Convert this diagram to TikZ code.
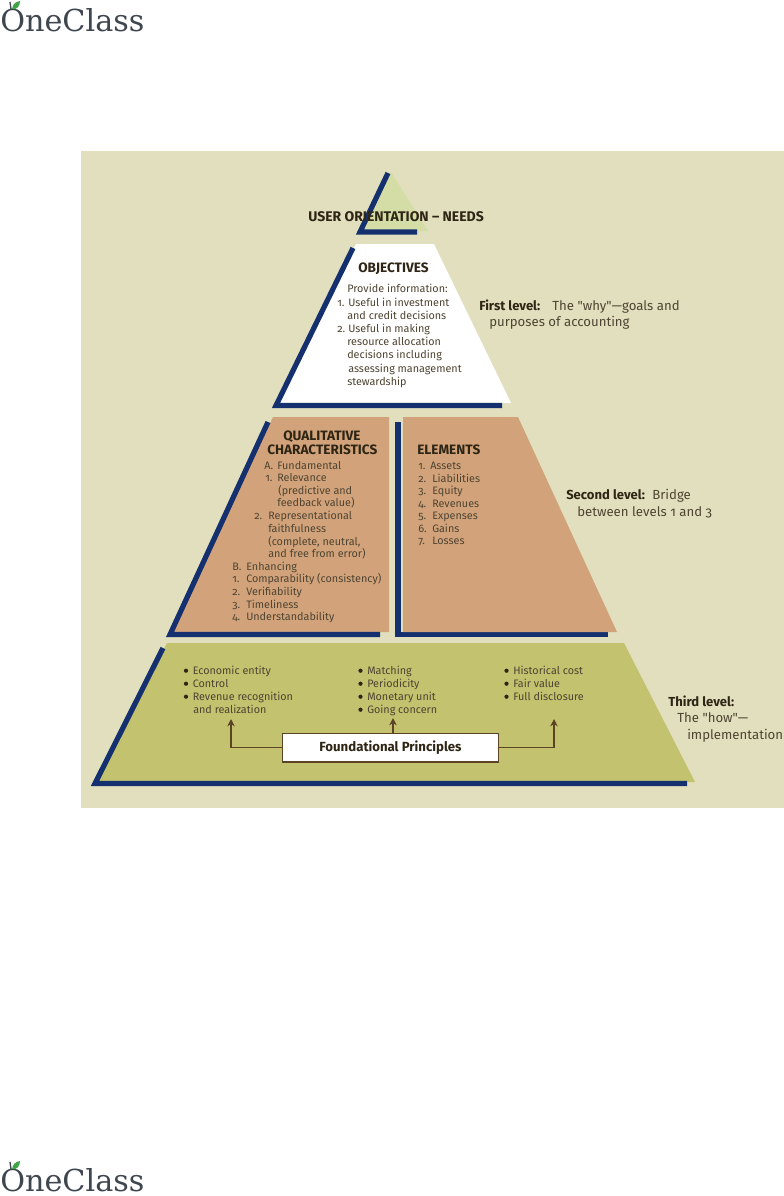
\documentclass[tikz,border=0pt]{standalone}
\usepackage{fontspec}
\setmainfont[Numbers=OldStyle,Ligatures=TeXOff]{Fira Sans}
\newfontfamily\logofont{DejaVu Serif}
\definecolor{bgc}{HTML}{E2DFBE}
\definecolor{navy}{HTML}{14306E}
\definecolor{tanc}{HTML}{D2A37A}
\definecolor{olive}{HTML}{C2C26F}
\definecolor{pale}{HTML}{D5DDA6}
\definecolor{ink}{HTML}{4E4432}
\definecolor{dark}{HTML}{2E2515}
\definecolor{brownc}{HTML}{5B4425}
\definecolor{logoc}{HTML}{3F4650}
\definecolor{leaf}{HTML}{3DA547}
\newcommand{\tl}[5][body]{\node[txt,#1] (#2) at (#3,#4+4.2) {#5};}
\newcommand{\bl}[4]{\fill[dark] (#1,#2+0.7) circle (2.1);\node[txt,body] (#3) at (#1+6.5,#2+4.2) {#4};}
\newcommand{\logo}[2]{%
  \begin{scope}[shift={(#1,#2)}]
    \node[logotext] (logo#2) at (0,31) {OneClass};
    \draw[logoc,line width=1pt] (11,9) -- (10,2);
    \fill[leaf] (12,9) .. controls (13,4) and (15,2) .. (20,1) .. controls (20,6) and (17,10) .. (12,9) -- cycle;
  \end{scope}}
\tikzset{
  txt/.style={inner sep=0pt,anchor=base west},
  body/.style={font=\fontsize{8.1pt}{9pt}\selectfont,text=ink},
  head/.style={font=\fontsize{10.2pt}{11pt}\selectfont\bfseries,text=dark},
  headw/.style={font=\fontsize{10.5pt}{11pt}\selectfont\bfseries,text=dark},
  side/.style={font=\fontsize{9.9pt}{11pt}\selectfont,text=ink},
  sideb/.style={font=\fontsize{9.8pt}{11pt}\selectfont\bfseries,text=dark},
  band/.style={draw=navy,line width=3.9pt,line join=miter,fill=none},
  flow/.style={draw=brownc,line width=1.1pt,-{Stealth[length=5.5pt,width=5.5pt]}},
  logotext/.style={inner sep=0pt,anchor=base west,font=\logofont\fontsize{22.7pt}{24pt}\selectfont,text=logoc},
}
\usetikzlibrary{arrows.meta}
\begin{document}
\begin{tikzpicture}[x=0.75pt,y=-0.75pt]
\useasboundingbox[fill=white] (0,0) rectangle (784,1196);
\fill[bgc] (81,151) rectangle (784,808);
% apex
\fill[pale] (391,172) -- (428,231) -- (362,231) -- cycle;
\draw[band] (388,173) -- (360,232) -- (417,232);
\tl[headw]{uo}{308}{217}{USER ORIENTATION – NEEDS}
% objectives
\fill[white] (356,244) -- (434,244) -- (511,403) -- (280,403) -- cycle;
\draw[band] (353,248) -- (276,405.5) -- (502,405.5);
\tl[head]{obj}{358}{268}{OBJECTIVES}
\tl{o1}{347}{288}{Provide information:}
\tl{o2a}{337}{302}{1.}
\tl{o2}{348}{302}{Useful in investment}
\tl{o3}{347}{315}{and credit decisions}
\tl{o4a}{337}{328}{2.}
\tl{o4}{348}{328}{Useful in making}
\tl{o5}{347}{341}{resource allocation}
\tl{o6}{347}{354}{decisions including}
\tl{o7}{348}{368}{assessing management}
\tl{o8}{347}{381}{stewardship}
% qualitative
\fill[tanc] (273,417) -- (389,417) -- (389,632) -- (172,632) -- cycle;
\draw[band] (268,422) -- (170,634.5) -- (380,634.5);
\tl[head]{q1}{283}{436}{QUALITATIVE}
\tl[head]{q2}{267}{450}{CHARACTERISTICS}
\tl{a0}{264}{465}{A.}
\tl{a1}{277}{465}{Fundamental}
\tl{a2a}{265}{477}{1.}
\tl{a2}{277}{477}{Relevance}
\tl{a3}{278}{490}{(predictive and}
\tl{a4}{277}{502}{feedback value)}
\tl{a5a}{254}{515}{2.}
\tl{a5}{268}{515}{Representational}
\tl{a6}{268}{528}{faithfulness}
\tl{a7}{268}{541}{(complete, neutral,}
\tl{a8}{268}{553}{and free from error)}
\tl{b0}{232}{566}{B.}
\tl{b1}{246}{566}{Enhancing}
\tl{b2a}{232}{578}{1.}
\tl{b2}{246}{578}{Comparability (consistency)}
\tl{b3a}{232}{591}{2.}
\tl{b3}{246}{591}{Verifiability}
\tl{b4a}{232}{604}{3.}
\tl{b4}{246}{604}{Timeliness}
\tl{b5a}{232}{616}{4.}
\tl{b5}{246}{616}{Understandability}
% elements
\draw[band] (398,422) -- (398,634.5) -- (608,634.5);
\fill[tanc] (403,417) -- (518,417) -- (617,632) -- (403,632) -- cycle;
\tl[head]{el}{417}{450}{ELEMENTS}
\tl{e1a}{418}{465}{1.}\tl{e1}{430}{465}{Assets}
\tl{e2a}{418}{478}{2.}\tl{e2}{432}{478}{Liabilities}
\tl{e3a}{418}{490}{3.}\tl{e3}{432}{490}{Equity}
\tl{e4a}{418}{503}{4.}\tl{e4}{432}{503}{Revenues}
\tl{e5a}{418}{515}{5.}\tl{e5}{432}{515}{Expenses}
\tl{e6a}{418}{528}{6.}\tl{e6}{432}{528}{Gains}
\tl{e7a}{418}{540}{7.}\tl{e7}{432}{540}{Losses}
% foundational
\fill[olive] (167,643) -- (624,643) -- (695,782) -- (96,782) -- cycle;
\draw[band] (163,648) -- (95,783.5) -- (687,783.5);
\bl{186}{670}{c1}{Economic entity}
\bl{186}{683}{c2}{Control}
\bl{186}{696}{c3}{Revenue recognition}
\tl{c4}{193}{709}{and realization}
\bl{360.5}{670}{d1}{Matching}
\bl{360.5}{683}{d2}{Periodicity}
\bl{360.5}{696}{d3}{Monetary unit}
\bl{360.5}{709}{d4}{Going concern}
\bl{506.5}{670}{f1}{Historical cost}
\bl{506.5}{683}{f2}{Fair value}
\bl{506.5}{696}{f3}{Full disclosure}
\node[draw=brownc,line width=1pt,fill=white,minimum width=162pt,minimum height=21.5pt,inner sep=0pt,font=\fontsize{9.9pt}{11pt}\selectfont\bfseries,text=dark] (fp) at (390.5,747.5) {Foundational Principles};
\coordinate (al) at (231,719);
\coordinate (am) at (393,718);
\coordinate (ar) at (554,719);
\draw[flow] (fp.west) -| (al);
\draw[flow] (fp.north -| am) -- (am);
\draw[flow] (fp.east) -| (ar);
% side labels
\tl[sideb]{s1}{479}{306}{First level:}
\tl[side]{s1b}{552}{306}{The "why"—goals and}
\tl[side]{s1c}{489}{322}{purposes of accounting}
\tl[sideb]{s2}{566}{495}{Second level:}
\tl[side]{s2b}{652}{495}{Bridge}
\tl[side]{s2c}{577}{512}{between levels 1 and 3}
\tl[sideb]{s3}{668}{702}{Third level:}
\tl[side]{s3b}{677}{718}{The "how"—}
\tl[side]{s3c}{687}{735}{implementation}
\logo{0}{0}
\logo{0}{1160}
\end{tikzpicture}
\end{document}
